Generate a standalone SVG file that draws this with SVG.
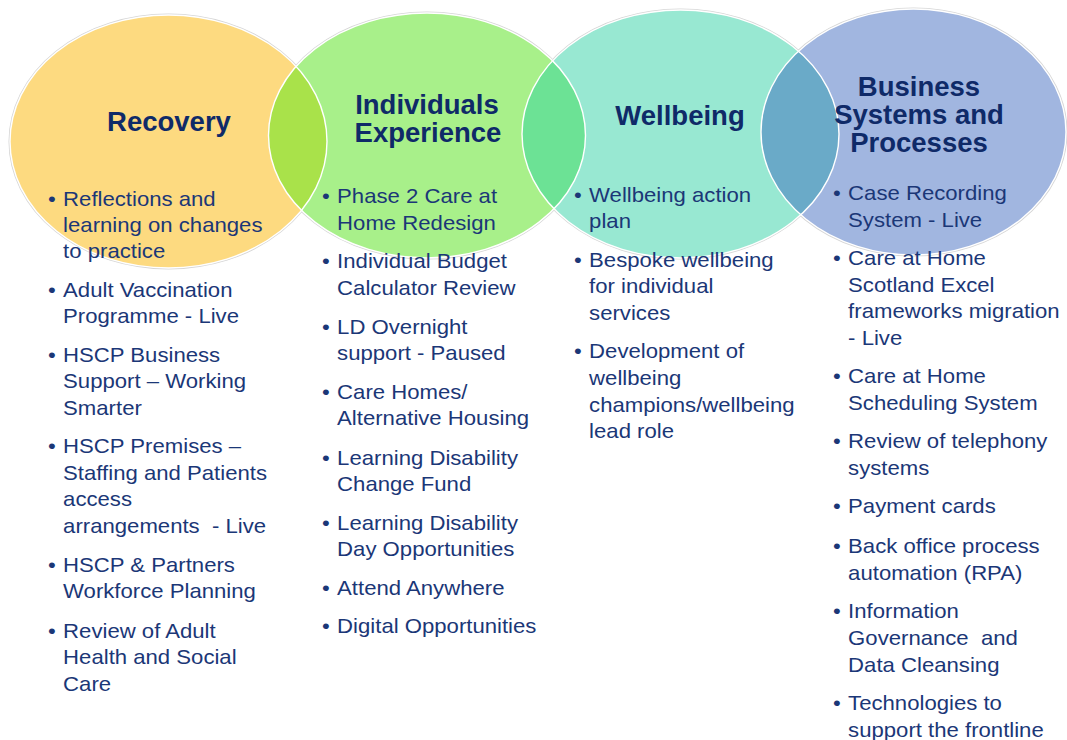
<svg xmlns="http://www.w3.org/2000/svg" width="1067" height="740" viewBox="0 0 1067 740">
<style>
.title{font-family:"Liberation Sans",Arial,sans-serif;font-weight:bold;font-size:27.5px;fill:#0F2A68;text-anchor:middle}
.body{font-family:"Liberation Sans",Arial,sans-serif;font-size:20.5px;fill:#1B3777}
.edge{fill:none;stroke:#ffffff;stroke-width:1.4}
.shadow{fill:none;stroke:#d6d6d6;stroke-width:3}
</style>
<defs>
<clipPath id="cY"><ellipse cx="168.5" cy="141.5" rx="158.5" ry="126.5"/></clipPath>
<clipPath id="cG"><ellipse cx="427" cy="135.5" rx="158.5" ry="122.5"/></clipPath>
<clipPath id="cT"><ellipse cx="680.5" cy="134" rx="158.5" ry="124"/></clipPath>
</defs>
<rect width="1067" height="740" fill="#ffffff"/>
<g id="circles">
<ellipse class="shadow" cx="168.5" cy="141.5" rx="158.5" ry="126.5"/>
<ellipse class="shadow" cx="427" cy="135.5" rx="158.5" ry="122.5"/>
<ellipse class="shadow" cx="680.5" cy="134" rx="158.5" ry="124"/>
<ellipse class="shadow" cx="913.5" cy="132" rx="152.5" ry="123"/>
<ellipse id="recovery-circle" cx="168.5" cy="141.5" rx="158.5" ry="126.5" fill="#FDDA80"/>
<ellipse id="individuals-circle" cx="427" cy="135.5" rx="158.5" ry="122.5" fill="#A8F08A"/>
<ellipse id="wellbeing-circle" cx="680.5" cy="134" rx="158.5" ry="124" fill="#98E8D2"/>
<ellipse id="business-circle" cx="913.5" cy="132" rx="152.5" ry="123" fill="#A1B6E0"/>
<ellipse cx="427" cy="135.5" rx="158.5" ry="122.5" fill="#A9E24A" clip-path="url(#cY)"/>
<ellipse cx="680.5" cy="134" rx="158.5" ry="124" fill="#6CE295" clip-path="url(#cG)"/>
<ellipse cx="913.5" cy="132" rx="152.5" ry="123" fill="#6AAAC8" clip-path="url(#cT)"/>
<ellipse class="edge" cx="168.5" cy="141.5" rx="158.5" ry="126.5"/>
<ellipse class="edge" cx="427" cy="135.5" rx="158.5" ry="122.5"/>
<ellipse class="edge" cx="680.5" cy="134" rx="158.5" ry="124"/>
<ellipse class="edge" cx="913.5" cy="132" rx="152.5" ry="123"/>
</g>
<g id="recovery">
<text class="title" x="169" y="131">Recovery</text>
<g class="body" transform="translate(48,0) scale(1.08,1)">
<text x="0" y="206">•</text><text x="14" y="206">Reflections and</text>
<text x="14" y="232">learning on changes</text>
<text x="14" y="258">to practice</text>
<text x="0" y="297">•</text><text x="14" y="297">Adult Vaccination</text>
<text x="14" y="323">Programme - Live</text>
<text x="0" y="362">•</text><text x="14" y="362">HSCP Business</text>
<text x="14" y="388">Support – Working</text>
<text x="14" y="415">Smarter</text>
<text x="0" y="453">•</text><text x="14" y="453">HSCP Premises –</text>
<text x="14" y="480">Staffing and Patients</text>
<text x="14" y="506">access</text>
<text x="14" y="533" xml:space="preserve">arrangements  - Live</text>
<text x="0" y="572">•</text><text x="14" y="572">HSCP &amp; Partners</text>
<text x="14" y="598">Workforce Planning</text>
<text x="0" y="638">•</text><text x="14" y="638">Review of Adult</text>
<text x="14" y="664">Health and Social</text>
<text x="14" y="691">Care</text>
</g>
</g>
<g id="individuals">
<text class="title" x="427" y="114">Individuals</text>
<text class="title" x="428" y="142">Experience</text>
<g class="body" transform="translate(322,0) scale(1.08,1)">
<text x="0" y="203">•</text><text x="14" y="203">Phase 2 Care at</text>
<text x="14" y="230">Home Redesign</text>
<text x="0" y="268">•</text><text x="14" y="268">Individual Budget</text>
<text x="14" y="295">Calculator Review</text>
<text x="0" y="334">•</text><text x="14" y="334">LD Overnight</text>
<text x="14" y="360">support - Paused</text>
<text x="0" y="399">•</text><text x="14" y="399">Care Homes/</text>
<text x="14" y="425">Alternative Housing</text>
<text x="0" y="465">•</text><text x="14" y="465">Learning Disability</text>
<text x="14" y="491">Change Fund</text>
<text x="0" y="530">•</text><text x="14" y="530">Learning Disability</text>
<text x="14" y="556">Day Opportunities</text>
<text x="0" y="595">•</text><text x="14" y="595">Attend Anywhere</text>
<text x="0" y="633">•</text><text x="14" y="633">Digital Opportunities</text>
</g>
</g>
<g id="wellbeing">
<text class="title" x="680" y="125">Wellbeing</text>
<g class="body" transform="translate(574,0) scale(1.08,1)">
<text x="0" y="202">•</text><text x="14" y="202">Wellbeing action</text>
<text x="14" y="228">plan</text>
<text x="0" y="267">•</text><text x="14" y="267">Bespoke wellbeing</text>
<text x="14" y="293">for individual</text>
<text x="14" y="320">services</text>
<text x="0" y="358">•</text><text x="14" y="358">Development of</text>
<text x="14" y="385">wellbeing</text>
<text x="14" y="412">champions/wellbeing</text>
<text x="14" y="438">lead role</text>
</g>
</g>
<g id="business">
<text class="title" x="919" y="96">Business</text>
<text class="title" x="919" y="124">Systems and</text>
<text class="title" x="919" y="152">Processes</text>
<g class="body" transform="translate(833,0) scale(1.08,1)">
<text x="0" y="200">•</text><text x="14" y="200">Case Recording</text>
<text x="14" y="227">System - Live</text>
<text x="0" y="265">•</text><text x="14" y="265">Care at Home</text>
<text x="14" y="292">Scotland Excel</text>
<text x="14" y="318">frameworks migration</text>
<text x="14" y="345">- Live</text>
<text x="0" y="383">•</text><text x="14" y="383">Care at Home</text>
<text x="14" y="410">Scheduling System</text>
<text x="0" y="448">•</text><text x="14" y="448">Review of telephony</text>
<text x="14" y="475">systems</text>
<text x="0" y="513">•</text><text x="14" y="513">Payment cards</text>
<text x="0" y="553">•</text><text x="14" y="553">Back office process</text>
<text x="14" y="580">automation (RPA)</text>
<text x="0" y="618">•</text><text x="14" y="618">Information</text>
<text x="14" y="645" xml:space="preserve">Governance  and</text>
<text x="14" y="672">Data Cleansing</text>
<text x="0" y="710">•</text><text x="14" y="710">Technologies to</text>
<text x="14" y="737">support the frontline</text>
</g>
</g>
</svg>
